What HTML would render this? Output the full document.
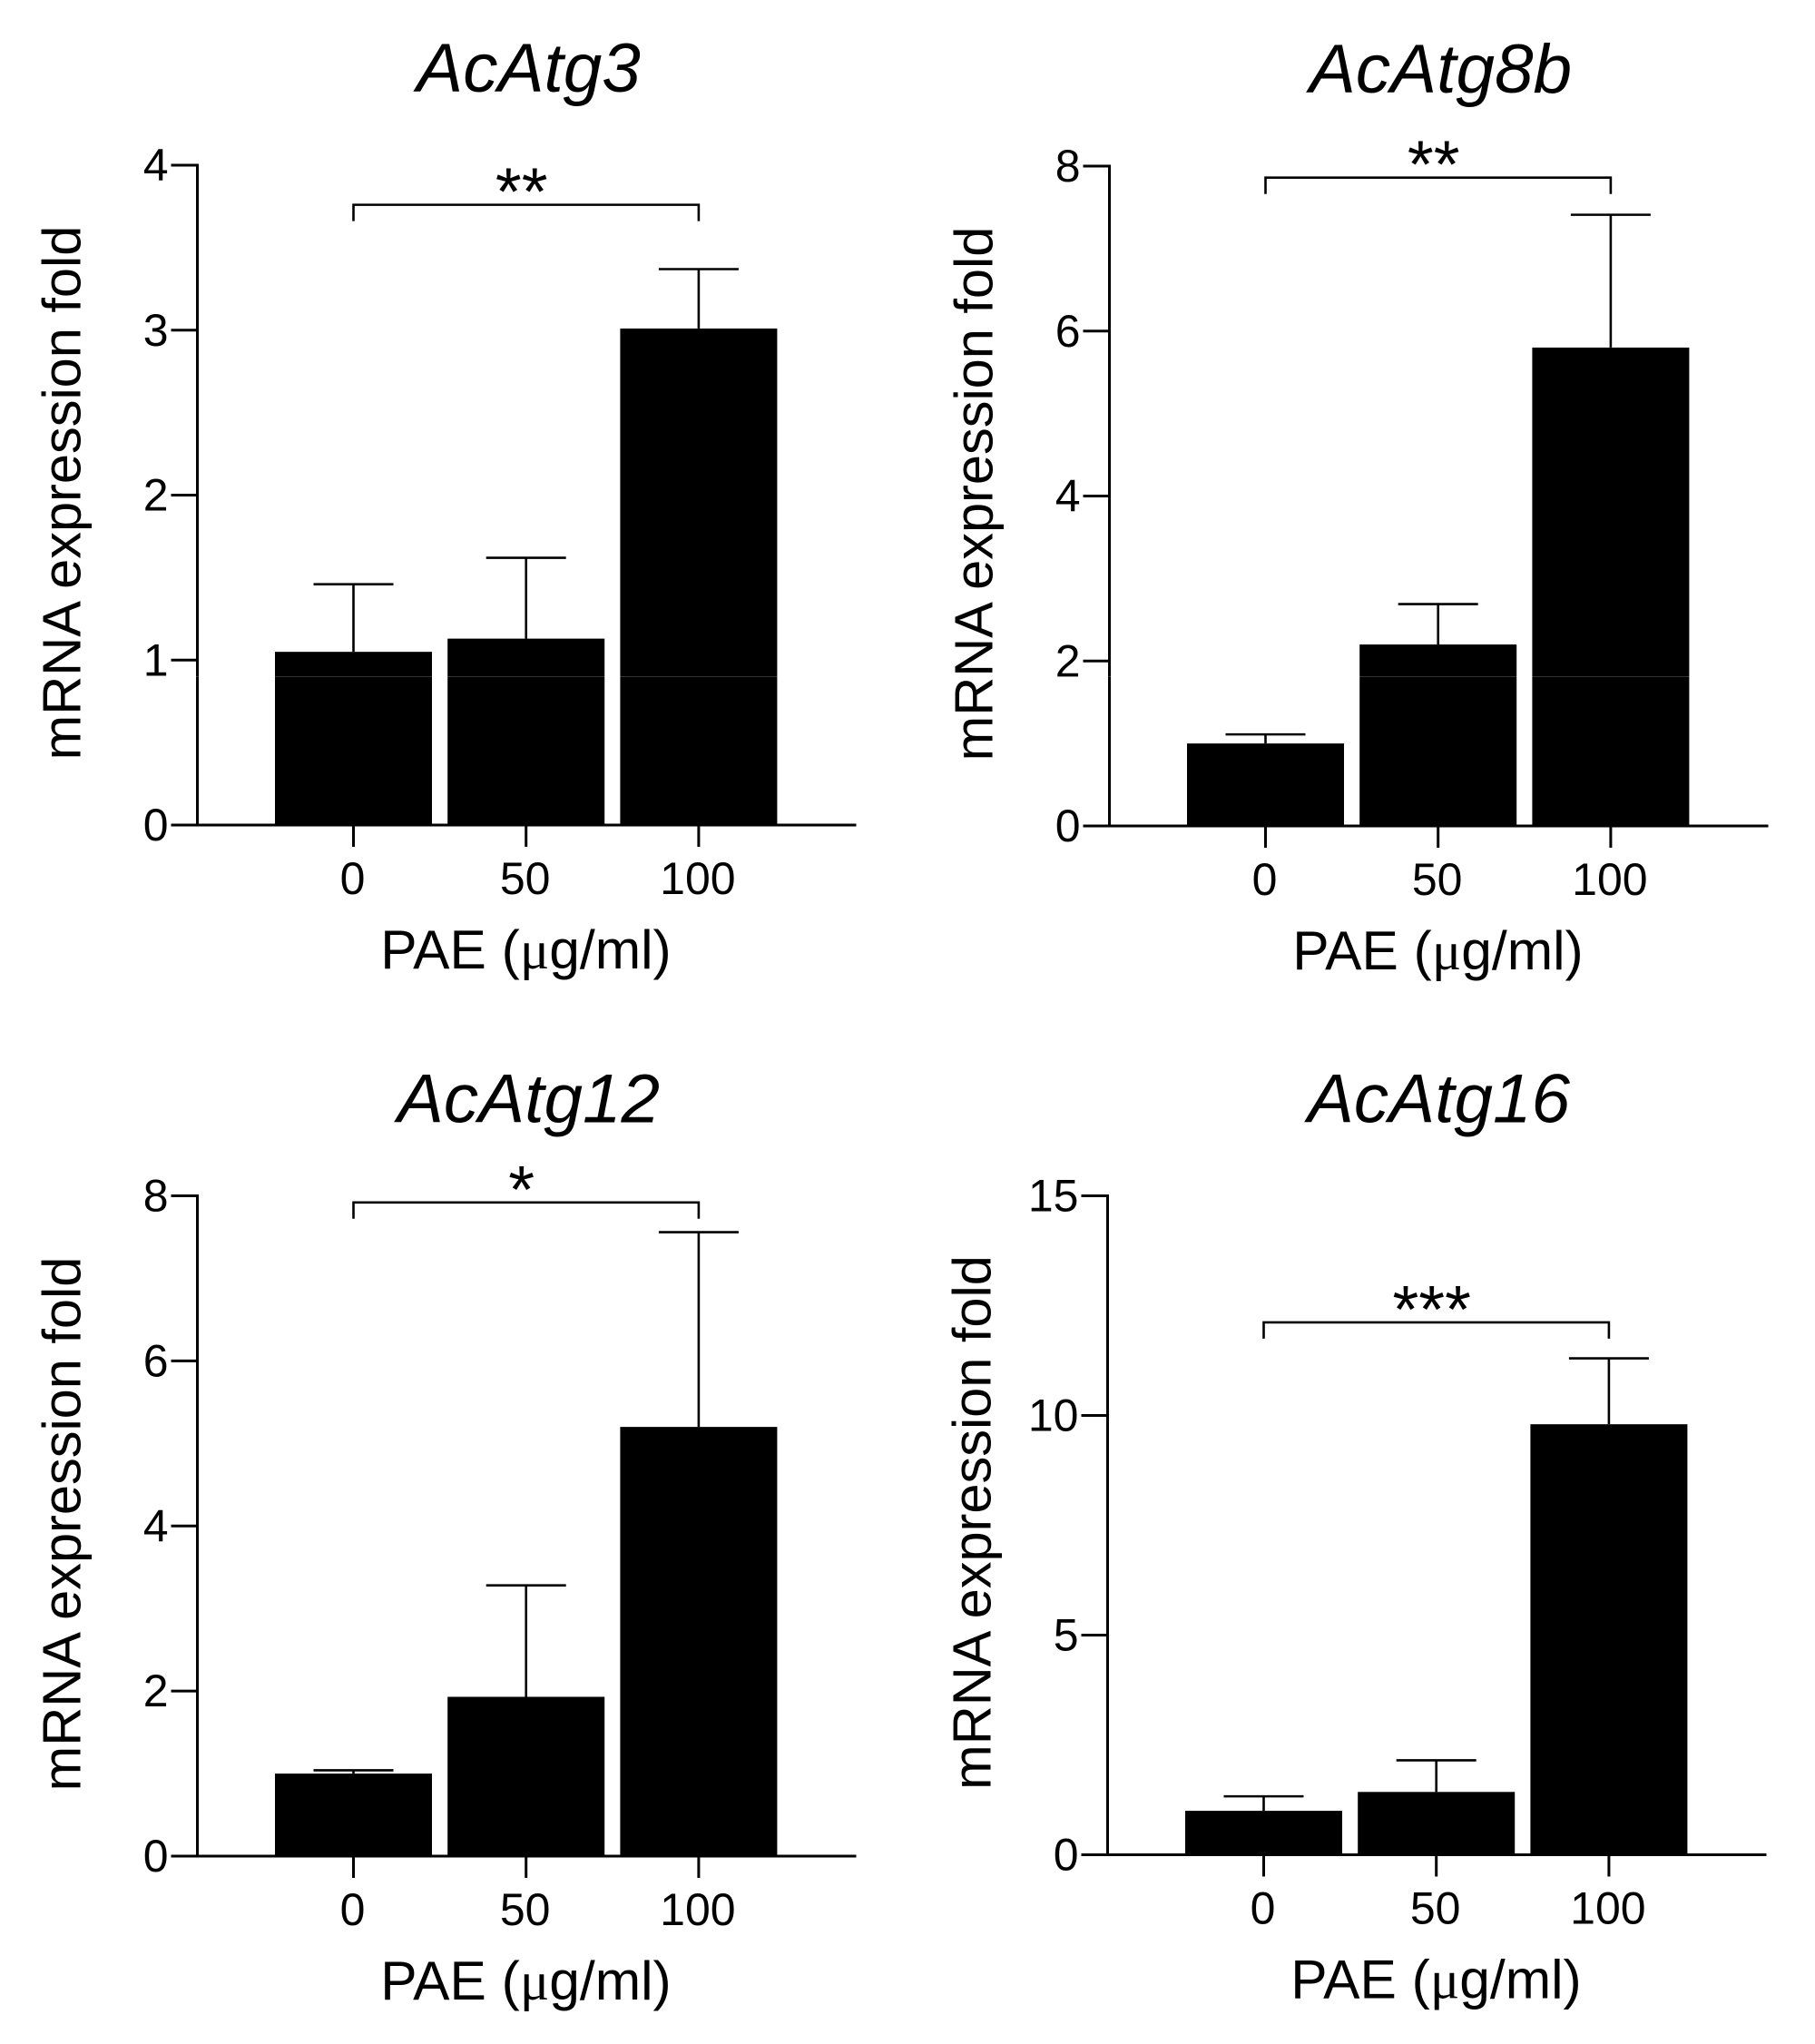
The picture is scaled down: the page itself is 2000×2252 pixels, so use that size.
<!DOCTYPE html>
<html lang="en">
<head>
<meta charset="utf-8">
<title>AcAtg mRNA expression</title>
<style>
  html, body { margin: 0; padding: 0; background: #fff; }
  svg { display: block; }
  text { font-family: "Liberation Sans", Arial, sans-serif; fill: #000; }
</style>
</head>
<body>
<svg id="figure" xmlns="http://www.w3.org/2000/svg" width="2000" height="2252" viewBox="0 0 2000 2252"></svg>
<script>
const doseCategories = ['0', '50', '100'];

const atg3Means = [1.05, 1.13, 3.01];
const atg3ErrorTops = [1.46, 1.62, 3.37];
const atg3Ticks = [0, 1, 2, 3, 4];
const atg3BracketLevel = 3.76;

const atg8bMeans = [1.0, 2.2, 5.8];
const atg8bErrorTops = [1.11, 2.69, 7.41];
const atg8bTicks = [0, 2, 4, 6, 8];
const atg8bBracketLevel = 7.86;

const atg12Means = [1.0, 1.93, 5.2];
const atg12ErrorTops = [1.04, 3.28, 7.56];
const atg12Ticks = [0, 2, 4, 6, 8];
const atg12BracketLevel = 7.92;

const atg16Means = [1.0, 1.43, 9.8];
const atg16ErrorTops = [1.33, 2.15, 11.3];
const atg16Ticks = [0, 5, 10, 15];
const atg16BracketLevel = 12.12;

const svg = document.getElementById('figure');
const NS = 'http://www.w3.org/2000/svg';

function mk(parent, tag, attrs, content) {
  const el = document.createElementNS(NS, tag);
  for (const k in attrs) el.setAttribute(k, attrs[k]);
  if (content !== undefined) el.textContent = content;
  parent.appendChild(el);
  return el;
}

function drawPanel(p) {
  const key = p.title.toLowerCase();
  const group = mk(svg, 'g', {});
  
  

  const yMax = p.ticks[p.ticks.length - 1];
  const yOf = v => p.baseY - (v / yMax) * (p.baseY - p.topY);
  const xOf = i => p.axisX + 172 + i * 190.2;
  const barW = 173;

  const title = mk(group, 'text', {
    x: p.axisX + 365, y: p.topY - 81, 'text-anchor': 'middle',
    'font-size': 76.5, 'font-style': 'italic'
  }, p.title);
  
  

  p.means.forEach((m, i) => {
    const bar = mk(group, 'rect', {
      x: xOf(i) - barW / 2, y: yOf(m), width: barW, height: p.baseY - yOf(m), fill: '#000'
    });
    
    

    const stem = mk(group, 'line', {
      x1: xOf(i), x2: xOf(i), y1: yOf(m), y2: yOf(p.errorTops[i]), stroke: '#000', 'stroke-width': 2.6
    });
    
    

    const cap = mk(group, 'line', {
      x1: xOf(i) - 44, x2: xOf(i) + 44, y1: yOf(p.errorTops[i]), y2: yOf(p.errorTops[i]), stroke: '#000', 'stroke-width': 2.6
    });
    
    
  });

  const yAxis = mk(group, 'line', {
    x1: p.axisX, x2: p.axisX, y1: p.topY - 1.5, y2: p.baseY + 1.5, stroke: '#000', 'stroke-width': 3
  });
  
  

  const xAxis = mk(group, 'line', {
    x1: p.axisX - 29, x2: p.axisX + 726, y1: p.baseY, y2: p.baseY, stroke: '#000', 'stroke-width': 3
  });
  
  

  p.ticks.forEach(t => {
    const tick = mk(group, 'line', {
      x1: p.axisX - 29, x2: p.axisX, y1: yOf(t), y2: yOf(t), stroke: '#000', 'stroke-width': 3
    });
    
    

    const label = mk(group, 'text', {
      x: p.axisX - 32, y: yOf(t) + 17, 'text-anchor': 'end', 'font-size': 50
    }, String(t));
    
    
  });

  doseCategories.forEach((c, i) => {
    const tick = mk(group, 'line', {
      x1: xOf(i), x2: xOf(i), y1: p.baseY, y2: p.baseY + 24, stroke: '#000', 'stroke-width': 3
    });
    
    

    const label = mk(group, 'text', {
      x: xOf(i) - 1, y: p.baseY + 76, 'text-anchor': 'middle', 'font-size': 50
    }, c);
    
    
  });

  const xTitle = mk(group, 'text', {
    x: p.axisX + 362, y: p.baseY + 158, 'text-anchor': 'middle', 'font-size': 60.5
  });
  
  
  mk(xTitle, 'tspan', {}, 'PAE (');
  mk(xTitle, 'tspan', { style: 'font-family:"Liberation Serif",serif' }, 'μ');
  mk(xTitle, 'tspan', {}, 'g/ml)');

  const yTx = p.axisX - 129, yTy = p.baseY - 366;
  const yTitle = mk(group, 'text', {
    x: yTx, y: yTy, 'text-anchor': 'middle', 'font-size': 59.5,
    transform: 'rotate(-90 ' + yTx + ' ' + yTy + ')'
  }, 'mRNA expression fold');
  
  

  const by = yOf(p.bracketLevel);
  const bracket = mk(group, 'polyline', {
    points: xOf(0) + ',' + (by + 18) + ' ' + xOf(0) + ',' + by + ' ' + xOf(2) + ',' + by + ' ' + xOf(2) + ',' + (by + 18),
    fill: 'none', stroke: '#000', 'stroke-width': 2.6
  });
  
  

  const stars = mk(group, 'text', {
    x: xOf(1) - 5, y: by + 11, 'text-anchor': 'middle', 'font-size': 74
  }, p.stars);
  
  
}

drawPanel({ title: 'AcAtg3', axisX: 217.5, baseY: 909, topY: 182, means: atg3Means, errorTops: atg3ErrorTops, ticks: atg3Ticks, bracketLevel: atg3BracketLevel, stars: '**' });
drawPanel({ title: 'AcAtg8b', axisX: 1222.5, baseY: 910, topY: 183, means: atg8bMeans, errorTops: atg8bErrorTops, ticks: atg8bTicks, bracketLevel: atg8bBracketLevel, stars: '**' });
drawPanel({ title: 'AcAtg12', axisX: 217.5, baseY: 2045, topY: 1317.5, means: atg12Means, errorTops: atg12ErrorTops, ticks: atg12Ticks, bracketLevel: atg12BracketLevel, stars: '*' });
drawPanel({ title: 'AcAtg16', axisX: 1220.5, baseY: 2043.5, topY: 1317.5, means: atg16Means, errorTops: atg16ErrorTops, ticks: atg16Ticks, bracketLevel: atg16BracketLevel, stars: '***' });

const seam = mk(svg, 'rect', { x: 0, y: 745, width: 2000, height: 1, fill: '#fff', opacity: 0.2 });


</script>
</body>
</html>
